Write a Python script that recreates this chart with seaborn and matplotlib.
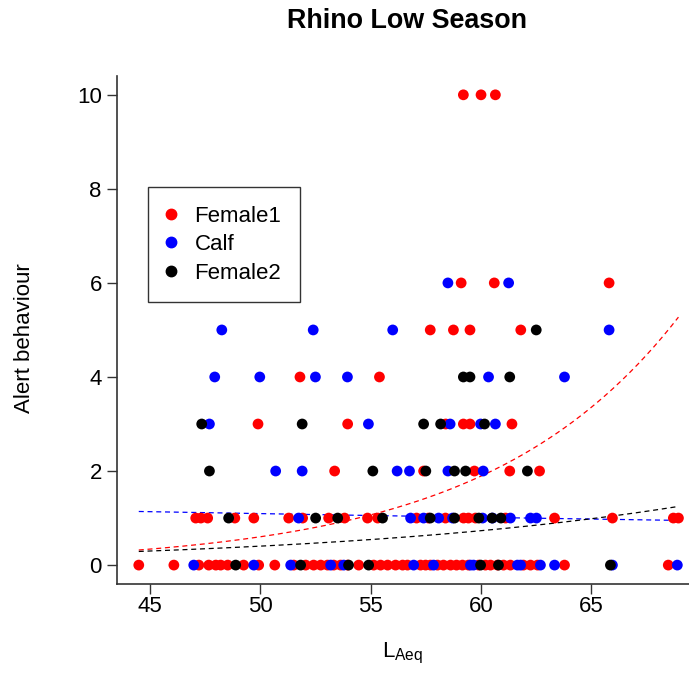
import numpy as np
import pandas as pd
import matplotlib
matplotlib.use("Agg")
import matplotlib.pyplot as plt
import seaborn as sns

# Alert behaviour counts against equivalent sound level, one list pair per animal
female1_laeq = [59.2, 60.0, 60.65,
                59.1, 60.6, 65.8,
                57.7, 58.75, 59.5, 61.8,
                51.8, 55.4,
                49.9, 53.96, 58.4, 59.2, 59.5, 61.4,
                53.37, 57.4, 59.7, 61.3, 62.65,
                47.08, 47.31, 47.62, 48.85, 49.71, 51.29, 51.92, 53.10, 53.82, 54.86,
                55.32, 57.08, 57.62, 58.39, 59.21, 59.43, 59.75, 61.11, 63.33, 65.95,
                68.71, 68.94,
                44.50, 46.09, 47.22, 47.67, 47.99, 48.21, 48.53, 49.25, 49.93, 50.66,
                51.52, 52.06, 52.42, 52.74, 53.05, 53.33, 53.64, 53.96, 54.46, 55.14,
                55.45, 55.77, 56.13, 56.45, 56.67, 57.26, 57.49, 57.71, 58.03, 58.30,
                58.62, 58.89, 59.16, 59.43, 59.89, 60.20, 60.43, 60.75, 61.02, 61.33,
                61.92, 62.24, 62.56, 63.78, 68.48]
female1_alert = ([10] * 3 + [6] * 3 + [5] * 4 + [4] * 2 + [3] * 6 + [2] * 5
                 + [1] * 22 + [0] * 45)

calf_laeq = [58.5, 61.25,
             48.26, 52.4, 56.0, 65.8,
             47.94, 49.98, 52.5, 53.95, 60.34, 63.78,
             47.7, 54.9, 58.6, 59.98, 60.65,
             50.7, 51.9, 56.2, 56.76, 58.5, 60.1,
             51.74, 56.81, 57.40, 58.08, 58.71, 60.07, 60.52, 61.33, 62.24, 62.51,
             46.99, 49.71, 51.38, 53.19, 53.78, 56.95, 57.85, 59.52, 59.66, 61.65,
             61.79, 62.69, 63.33, 65.95, 68.89]
calf_alert = ([6] * 2 + [5] * 4 + [4] * 6 + [3] * 5 + [2] * 6 + [1] * 10 + [0] * 15)

female2_laeq = [62.5,
                59.2, 59.5, 61.3,
                47.35, 51.9, 57.4, 58.17, 60.16,
                47.7, 55.1, 57.5, 58.8, 59.3, 62.1,
                48.57, 52.51, 53.51, 55.54, 57.7, 58.8, 59.9, 60.5, 60.9,
                48.89, 51.83, 54.00, 54.91, 59.98, 60.79, 65.86]
female2_alert = ([5] * 1 + [4] * 3 + [3] * 5 + [2] * 6 + [1] * 9 + [0] * 7)

groups = ["Female1", "Calf", "Female2"]
colors = ["red", "blue", "black"]
x_ticks = [45, 50, 55, 60, 65]
y_ticks = [0, 2, 4, 6, 8, 10]

# Poisson (log-link) trend per animal: intercept and slope on LAeq
glm_intercept = [-6.238, 0.462, -3.895]
glm_slope = [0.1146, -0.00744, 0.0597]

df = pd.concat([
    pd.DataFrame({"LAeq": female1_laeq, "Alert": female1_alert, "Animal": "Female1"}),
    pd.DataFrame({"LAeq": calf_laeq, "Alert": calf_alert, "Animal": "Calf"}),
    pd.DataFrame({"LAeq": female2_laeq, "Alert": female2_alert, "Animal": "Female2"}),
], ignore_index=True)

sns.set_style("ticks")
plt.rcParams["font.family"] = ["Liberation Sans", "DejaVu Sans"]
plt.rcParams["mathtext.fontset"] = "custom"
plt.rcParams["mathtext.rm"] = "Liberation Sans"
plt.rcParams["mathtext.it"] = "Liberation Sans"
for key in ["text.color", "axes.labelcolor", "xtick.color", "ytick.color"]:
    plt.rcParams[key] = "black"

fig = plt.figure(figsize=(6.89, 6.91), dpi=100)
ax = fig.add_axes([0.170, 0.155, 0.848, 0.735])

sns.scatterplot(data=df, x="LAeq", y="Alert", hue="Animal", hue_order=groups,
                palette=colors, s=60, linewidth=0, ax=ax, legend=False,
                zorder=3)

# fitted expected counts across the observed LAeq range
grid = np.linspace(df["LAeq"].min(), df["LAeq"].max(), 200)
for b0, b1, c in zip(glm_intercept, glm_slope, colors):
    sns.lineplot(x=grid, y=np.exp(b0 + b1 * grid), color=c, lw=0.9,
                 linestyle=(0, (4, 3)), ax=ax, zorder=2)

ax.set_xlim(43.52, 69.98)
ax.set_ylim(-0.4, 10.4)
ax.set_xticks(x_ticks)
ax.set_yticks(y_ticks)
ax.tick_params(axis="both", labelsize=16, length=7, width=1, color="#333333")
ax.tick_params(axis="x", pad=1.5)
ax.tick_params(axis="y", pad=4)
for side in ["top", "right"]:
    ax.spines[side].set_visible(False)
for side in ["left", "bottom"]:
    ax.spines[side].set_color("#333333")
    ax.spines[side].set_linewidth(1.2)

ax.set_xlabel("")
ax.set_ylabel("")
fig.text(0.036, 0.511, "Alert behaviour", rotation=90, ha="center", va="center",
         fontsize=16)
fig.text(0.585, 0.055, r"$\mathregular{L_{Aeq}}$", ha="center", va="center",
         fontsize=16)
fig.text(0.59, 0.969, "Rhino Low Season", ha="center", va="center",
         fontsize=19.4, fontweight="bold")

# legend box
handles = [plt.Line2D([], [], marker="o", linestyle="", color=c, markersize=7.5)
           for c in colors]
leg = ax.legend(handles, groups, loc="upper left",
                bbox_to_anchor=(0.053, 0.7815), fontsize=16, frameon=True,
                fancybox=False, edgecolor="black", handletextpad=0.84,
                handlelength=0.4, borderpad=0.85, labelspacing=0.33,
                borderaxespad=0)
leg.get_frame().set_linewidth(1.0)

fig.savefig("out.png", dpi=100)
